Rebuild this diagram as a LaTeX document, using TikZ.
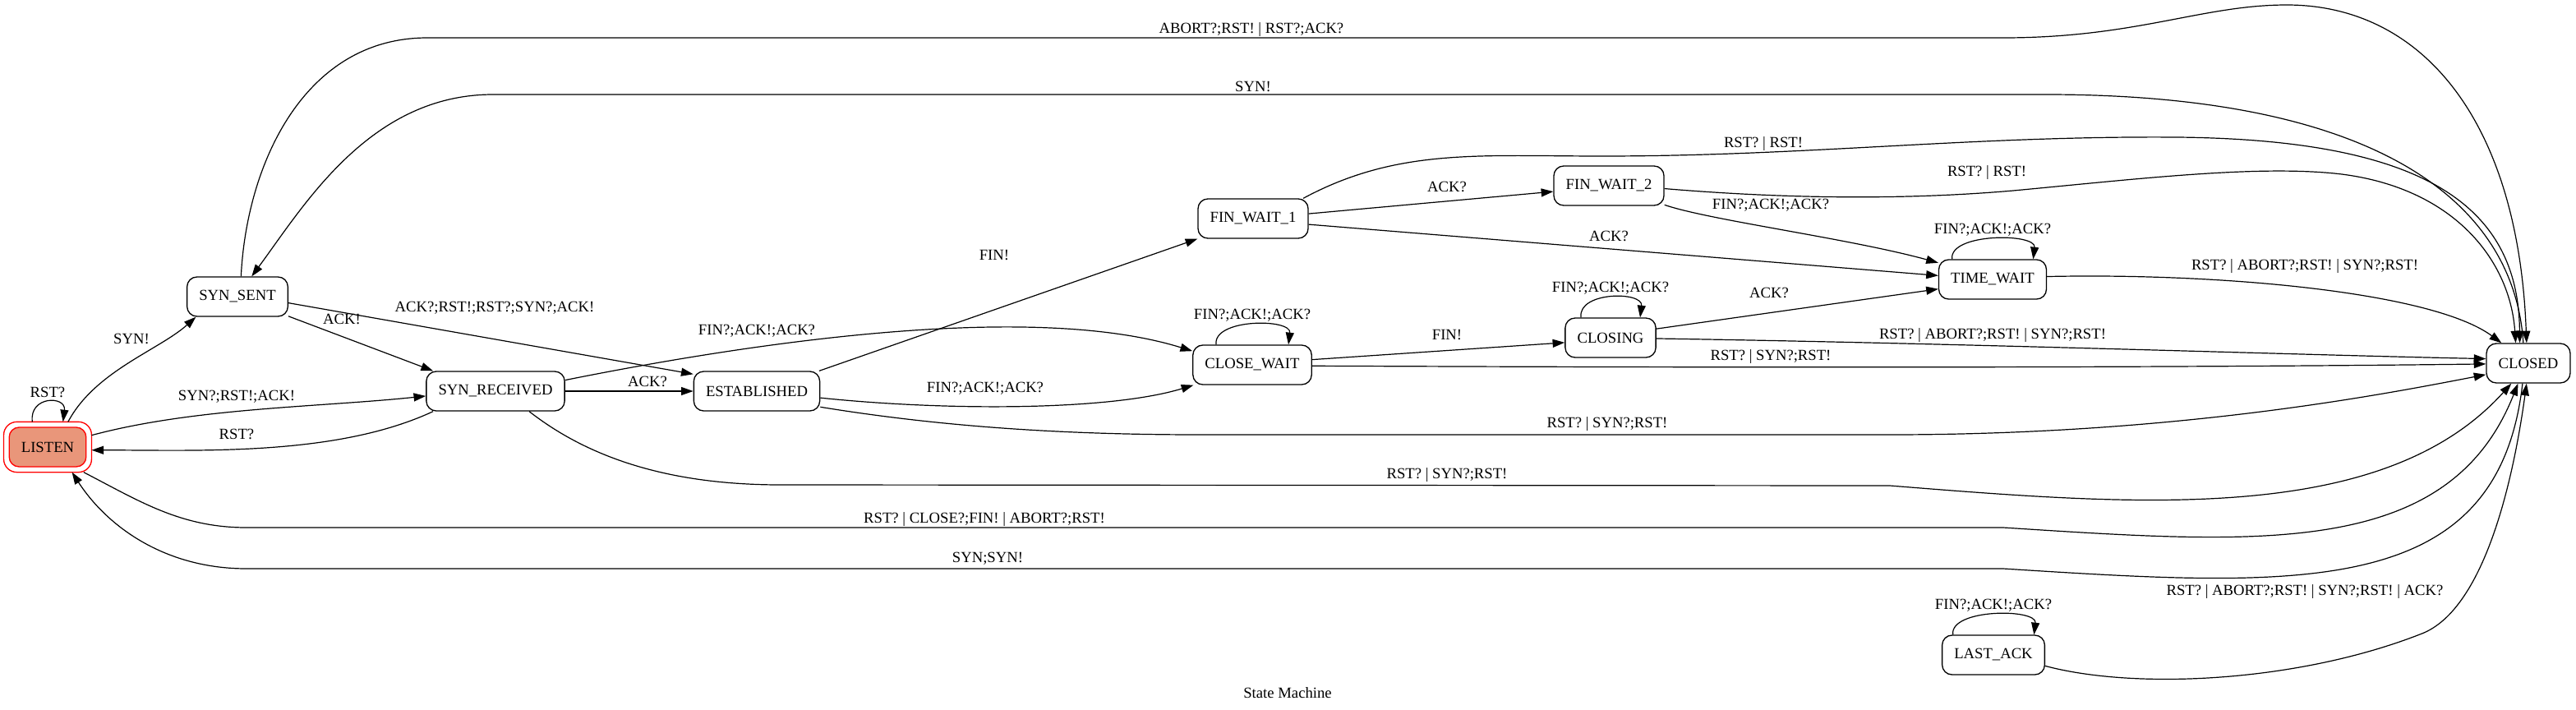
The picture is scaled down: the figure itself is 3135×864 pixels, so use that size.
\documentclass[tikz,border=0pt]{standalone}
\usepackage{fontspec}
\setmainfont{Liberation Serif}
\usetikzlibrary{arrows.meta}
\definecolor{lsalmon}{RGB}{233,150,122}
\tikzset{
	state/.style={draw, line width=1pt, rounded corners=9pt, minimum height=36pt, minimum width=54pt, inner xsep=11pt, font=\fontsize{14}{16}\selectfont},
	startstate/.style={state, draw=red, fill=lsalmon, outer sep=5pt},
	edge/.style={-{Triangle[length=11pt,width=7.5pt]}, line width=0.9pt},
	lbl/.style={inner sep=1pt, font=\fontsize{14}{16}\selectfont}
}
\def\selfloop(#1)(#2)#3{\draw[edge] ([xshift=-#2]#1.north) .. controls +(-3pt,24pt) and +(3pt,24pt) .. ([xshift=#2]#1.north); \node[lbl] (#1-loop) at ([yshift=27pt]#1.north) {#3};}

\begin{document}
\begin{tikzpicture}[x=0.75pt,y=0.75pt]
			%%%%% START %%%%%
			\useasboundingbox (0,0) rectangle (3135,-864);
			
			% states
			\node[startstate] (listen) at (58,-544) {LISTEN};
			\draw[red, line width=1pt, rounded corners=12pt] (listen.south west) rectangle (listen.north east);
			\node[state] (synsent) at (289,-361) {SYN\_SENT};
			\node[state] (synrecv) at (603,-476) {SYN\_RECEIVED};
			\node[state] (estab) at (921,-476) {ESTABLISHED};
			\node[state] (finwait1) at (1525,-266) {FIN\_WAIT\_1};
			\node[state] (finwait2) at (1958,-226) {FIN\_WAIT\_2};
			\node[state] (closewait) at (1524,-444) {CLOSE\_WAIT};
			\node[state] (closing) at (1960,-411) {CLOSING};
			\node[state] (timewait) at (2425,-340) {TIME\_WAIT};
			\node[state] (closed) at (3077,-442) {CLOSED};
			\node[state] (lastack) at (2426,-797) {LAST\_ACK};
			
			% self loops
			\selfloop(listen)(14pt){RST?}
			\selfloop(closewait)(33pt){FIN?;ACK!;ACK?}
			\selfloop(closing)(27pt){FIN?;ACK!;ACK?}
			\selfloop(timewait)(37pt){FIN?;ACK!;ACK?}
			\selfloop(lastack)(37pt){FIN?;ACK!;ACK?}
			
			% opening
			\draw[edge] (listen.51) .. controls +(62:70) and +(222:60) .. (synsent.206);
			\node[lbl] (l-syn) at (160,-412) {SYN!};
			\draw[edge] (listen.15) .. controls +(15:130) and +(186:130) .. (synrecv.184);
			\node[lbl] (l-synrstack) at (288,-483) {SYN?;RST!;ACK!};
			\draw[edge] (synrecv.198) .. controls +(205:130) and +(0:130) .. (listen.-4);
			\node[lbl] (l-rst) at (288,-528) {RST?};
			\draw[edge] (synsent.-21) -- (synrecv.162);
			\node[lbl] (l-ack) at (416,-388) {ACK!};
			\draw[edge] (synsent.-7) -- (estab.165);
			\node[lbl] (l-long) at (602,-375) {ACK?;RST!;RST?;SYN?;ACK!};
			\draw[edge] (synrecv) -- (estab);
			\node[lbl] (l-ack2) at (788,-464) {ACK?};
			
			% closing side
			\draw[edge] (synrecv.9) .. controls (900,-420) and (1250,-365) .. (closewait.167);
			\node[lbl] (l-fin1) at (921,-403) {FIN?;ACK!;ACK?};
			\draw[edge] (estab.18) -- (finwait1.200);
			\node[lbl] (l-fin) at (1210,-311) {FIN!};
			\draw[edge] (estab.-6) .. controls (1150,-500) and (1350,-500) .. (closewait.199);
			\node[lbl] (l-fin2) at (1199,-473) {FIN?;ACK!;ACK?};
			\draw[edge] (finwait1.5) -- (finwait2.186);
			\node[lbl] (l-ack3) at (1761,-227) {ACK?};
			\draw[edge] (finwait1.-6) -- (timewait.176);
			\node[lbl] (l-ack4) at (1958,-287) {ACK?};
			\draw[edge] (finwait2.-19) .. controls (2080,-268) and (2250,-290) .. (timewait.163);
			\node[lbl] (l-fin3) at (2155,-250) {FIN?;ACK!;ACK?};
			\draw[edge] (closewait.5) -- (closing.186);
			\node[lbl] (l-fin4) at (1761,-408) {FIN!};
			\draw[edge] (closing.11) -- (timewait.190);
			\node[lbl] (l-ack5) at (2153,-356) {ACK?};
			
			% into CLOSED
			\draw[edge] (synsent.80) .. controls (300,-200) and (370,-46) .. (520,-46) -- (2438,-46) .. controls (2600,-46) and (2680,-6) .. (2783,-6) .. controls (2950,-6) and (3065,-150) .. (closed.95);
			\node[lbl] (l-abort1) at (1523,-36) {ABORT?;RST! | RST?;ACK?};
			\draw[edge] (closed.104) .. controls (3060,-250) and (2900,-115) .. (2490,-115) -- (600,-115) .. controls (450,-115) and (370,-250) .. (synsent.55);
			\node[lbl] (l-syn2) at (1525,-105) {SYN!};
			\draw[edge] (finwait1.22) .. controls (1700,-180) and (1800,-190) .. (1950,-190) .. controls (2200,-190) and (2400,-165) .. (2650,-167) .. controls (2950,-170) and (3065,-250) .. (closed.113);
			\node[lbl] (l-rst1) at (2146,-175) {RST? | RST!};
			\draw[edge] (finwait2.-3) .. controls (2150,-240) and (2300,-245) .. (2450,-232) .. controls (2600,-218) and (2750,-200) .. (2850,-212) .. controls (2990,-230) and (3055,-320) .. (closed.122);
			\node[lbl] (l-rst2) at (2418,-210) {RST? | RST!};
			\draw[edge] (timewait.3) .. controls (2700,-332) and (2960,-355) .. (closed.143);
			\node[lbl] (l-rst3) at (2805,-324) {RST? | ABORT?;RST! | SYN?;RST!};
			\draw[edge] (closing.-1) .. controls (2400,-418) and (2800,-432) .. (closed.174);
			\node[lbl] (l-rst4) at (2425,-408) {RST? | ABORT?;RST! | SYN?;RST!};
			\draw[edge] (closewait.-1) .. controls (2200,-448) and (2700,-447) .. (closed.181);
			\node[lbl] (l-rst5) at (2155,-434) {RST? | SYN?;RST!};
			\draw[edge] (estab.-14) .. controls (1150,-520) and (1300,-529) .. (1460,-529) -- (2300,-529) .. controls (2650,-529) and (2900,-480) .. (closed.195);
			\node[lbl] (l-rst6) at (1956,-516) {RST? | SYN?;RST!};
			\draw[edge] (synrecv.-31) .. controls (720,-560) and (820,-590) .. (950,-590) -- (2300,-591) .. controls (2600,-615) and (2900,-640) .. (closed.230);
			\node[lbl] (l-rst7) at (1761,-578) {RST? | SYN?;RST!};
			\draw[edge] (listen.-35) .. controls (170,-610) and (220,-642) .. (300,-642) -- (2438,-642) .. controls (2750,-662) and (2980,-680) .. (closed.243);
			\node[lbl] (l-rst8) at (1198,-632) {RST? | CLOSE?;FIN! | ABORT?;RST!};
			\draw[edge] (closed.254) .. controls (3040,-730) and (2800,-715) .. (2438,-692) -- (300,-692) .. controls (200,-692) and (130,-640) .. (listen.-46);
			\node[lbl] (l-synsyn) at (1202,-680) {SYN;SYN!};
			\draw[edge] (lastack.-12) .. controls (2600,-840) and (2800,-830) .. (2950,-770) .. controls (3030,-735) and (3062,-560) .. (closed.265);
			\node[lbl] (l-rst9) at (2805,-720) {RST? | ABORT?;RST! | SYN?;RST! | ACK?};
			
			\node[lbl] (title) at (1567,-843) {State Machine};
			%%%%% END %%%%%
\end{tikzpicture}
\end{document}
